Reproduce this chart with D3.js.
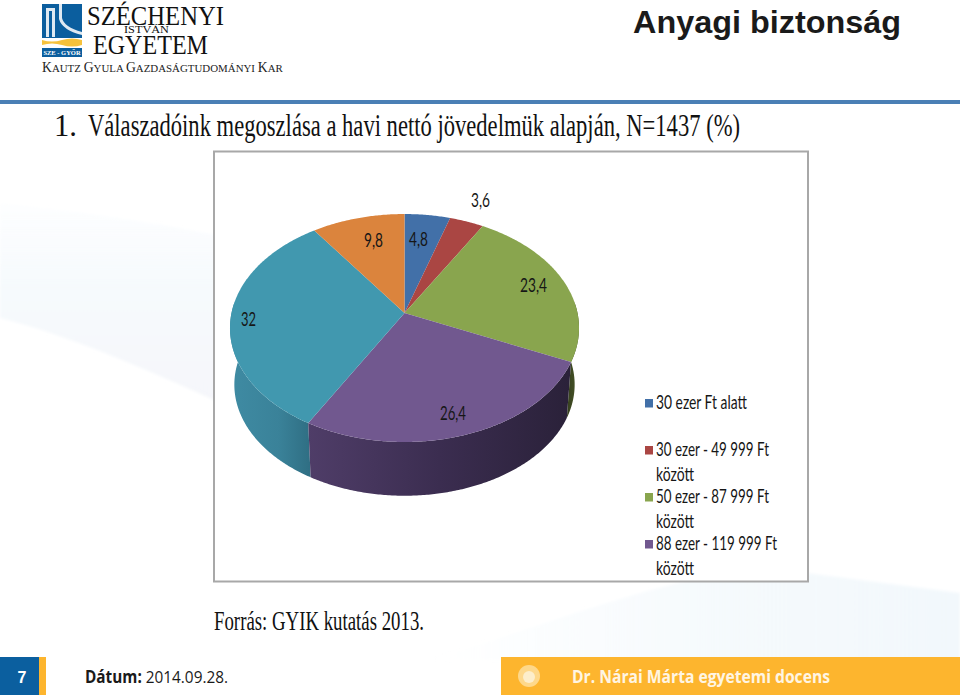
<!DOCTYPE html>
<html><head><meta charset="utf-8">
<script src="https://cdn.jsdelivr.net/npm/d3@7"></script>
<style>html,body{margin:0;padding:0;background:#fff;overflow:hidden}svg{display:block}</style>
</head><body>
<script>
const categories = ["30 ezer Ft alatt","30 ezer - 49 999 Ft között","50 ezer - 87 999 Ft között","88 ezer - 119 999 Ft között","120 ezer - 199 999 Ft között","200 ezer Ft felett"];
const values = [4.8,3.6,23.4,26.4,32,9.8];
const valueLabels = ["4,8","3,6","23,4","26,4","32","9,8"];
const colors = ["#4270a8","#aa4643","#89a54e","#71588f","#4198af","#db843d"];
const legendLines = [["30 ezer Ft alatt"],["30 ezer - 49 999 Ft","között"],["50 ezer - 87 999 Ft","között"],["88 ezer - 119 999 Ft","között"]];
const titleText = "Válaszadóink megoszlása a havi nettó jövedelmük alapján, N=1437 (%)";

const W=960,H=695;
const svg=d3.select("body").append("svg").attr("width",W).attr("height",H).attr("viewBox",[0,0,W,H]);
const defs=svg.append("defs");
function grad(id,stops,x1=0,y1=0,x2=1,y2=0){
  const g=defs.append("linearGradient").attr("id",id).attr("x1",x1).attr("y1",y1).attr("x2",x2).attr("y2",y2);
  stops.forEach(s=>g.append("stop").attr("offset",s[0]).attr("stop-color",s[1]).attr("stop-opacity",s[2]===undefined?1:s[2]));
}
grad("tealSide",[[0,"#3f8ba3"],[0.6,"#3a8299"],[1,"#2f6e83"]]);
grad("purpleSide",[[0,"#4f3d68"],[0.5,"#3b2d50"],[1,"#2a2139"]]);
grad("greenSide",[[0,"#36401e"],[1,"#4a5829"]]);
grad("band",[[0,"#f6fafd",0.2],[0.4,"#f6fafd",1],[1,"#f5f6fa",1]],0,0,0,1);
grad("lowWash",[[0,"#f2f8fc",0],[0.6,"#f2f8fc",0.8],[1,"#f2f8fc",1]],0,0,1,0);
const blur=defs.append("filter").attr("id","soft").attr("x","-10%").attr("y","-10%").attr("width","120%").attr("height","120%");
blur.append("feGaussianBlur").attr("stdDeviation",1.5);

svg.append("rect").attr("width",W).attr("height",H).attr("fill","#fff");
// pale background wash
svg.append("path").attr("d","M0,203 C90,212 170,225 240,240 L240,412 C160,375 70,335 0,318 Z").attr("fill","url(#band)").attr("filter","url(#soft)");
svg.append("path").attr("d","M430,660 C560,620 660,580 760,567 L960,593 L960,660 Z").attr("fill","url(#lowWash)").attr("filter","url(#soft)");

// header rule
svg.append("rect").attr("x",0).attr("y",100).attr("width",W).attr("height",4).attr("fill","#4a7fb5");

// logo
const logo=svg.append("g");
logo.append("rect").attr("x",42).attr("y",4).attr("width",40).attr("height",34).attr("fill","#0b5e9e");
logo.append("path").attr("d","M46,8 h9 v29 h-3 v-26 h-3 v26 h-3 Z M59,4 h3 v14 q2,9 20,14 v3 q-20,-5 -23,-16 Z").attr("fill","#dfe9f2");
logo.append("path").attr("d","M42,40 q10,3 20,0 t20,0 v5 q-10,3 -20,0 t-20,0 Z").attr("fill","#f6c23c");
logo.append("rect").attr("x",42).attr("y",48).attr("width",40).attr("height",9).attr("fill","#0b5e9e");
logo.append("text").attr("x",62).attr("y",55).attr("text-anchor","middle").attr("font-family","'Liberation Serif'").attr("font-size",6.5).attr("font-weight","bold").attr("fill","#fff").text("SZE - GYŐR");
const serif="'Liberation Serif',serif";
function fit(t,x,y,size,len,opts={}){
  return svg.append("text").attr("x",x).attr("y",y).attr("font-family",opts.family||serif).attr("font-size",size)
    .attr("fill",opts.fill||"#111").attr("font-weight",opts.weight||"normal").attr("textLength",len).attr("lengthAdjust","spacingAndGlyphs").text(t);
}
fit("SZÉCHENYI",87,24.5,28,137);
fit("ISTVÁN",124,33,9.5,45);
fit("EGYETEM",93,54,28,115);
const sc=svg.append("text").attr("x",42).attr("y",72).attr("font-family",serif).attr("fill","#222");
[["K",13.7],["AUTZ ",10.9],["G",13.7],["YULA ",10.9],["G",13.7],["AZDASÁGTUDOMÁNYI ",10.9],["K",13.7],["AR",10.9]].forEach(d=>sc.append("tspan").attr("font-size",d[1]).text(d[0]));

// heading
fit("Anyagi biztonság",633,33,31,268,{family:"'Liberation Sans',Arial,sans-serif",weight:"bold",fill:"#1a1a1a"});
fit("1.",54,136,31,23,{fill:"#111"});
fit(titleText,88,136,31,652,{fill:"#111"});

// chart frame
svg.append("rect").attr("x",214).attr("y",151.5).attr("width",594).attr("height",430).attr("fill","#fff").attr("stroke","#a8a8a8").attr("stroke-width",2);

// pie
const cx=404.5, cy=313, R=173, S=112, k=0.1316, depth=57, shrink=0.975;
function project(a,r=1,bottom=false){
  const u=Math.sin(a)*r, v=-Math.cos(a)*r, w=1-k*v, s=bottom?shrink:1;
  return [cx+s*R*u/w, cy+(bottom?depth:0)+s*S*v/w];
}
const arcs=d3.pie().sort(null).startAngle(0).endAngle(2*Math.PI)(values);
const line=d3.line();
const STEP=0.01;
function sweep(a0,a1){const n=Math.max(2,Math.ceil((a1-a0)/STEP));return d3.range(n+1).map(i=>a0+(a1-a0)*i/n);}
const sideFill={2:"url(#greenSide)",3:"url(#purpleSide)",4:"url(#tealSide)"};
const pie=svg.append("g");
[2,4,3].forEach(i=>{
  const d=arcs[i];
  const a0=Math.max(d.startAngle,Math.PI/2-0.1), a1=Math.min(d.endAngle,3*Math.PI/2+0.1);
  if(a1<=a0) return;
  const angs=sweep(a0,a1);
  const pts=angs.map(a=>project(a)).concat(angs.slice().reverse().map(a=>project(a,1,true)));
  pie.append("path").attr("d",line(pts)+"Z").attr("fill",sideFill[i]);
});
arcs.forEach((d,i)=>{
  const pts=[[cx,cy]].concat(sweep(d.startAngle,d.endAngle).map(a=>project(a)));
  pie.append("path").attr("d",line(pts)+"Z").attr("fill",colors[i]);
});

// labels
const calibri="Lato,'Open Sans',sans-serif";
function narrow(t,x,y,size,len){
  return svg.append("text").attr("x",x).attr("y",y).attr("font-family",calibri).attr("font-size",size).attr("fill","#161616")
   .attr("textLength",len).attr("lengthAdjust","spacingAndGlyphs").text(t);
}
const labelPos=[[409,246,19],[471,206.5,19],[520,292,27],[440,420,26],[241,326,15],[364,247,19]];
valueLabels.forEach((t,i)=>narrow(t,labelPos[i][0],labelPos[i][1],19,labelPos[i][2]));

// legend
const legendY=[409,456,503,550];
const lineW={"30 ezer Ft alatt":91,"30 ezer - 49 999 Ft":113,"50 ezer - 87 999 Ft":113,"88 ezer - 119 999 Ft":121,"között":38};
legendLines.forEach((ls,i)=>{
  svg.append("rect").attr("x",645).attr("y",legendY[i]-10).attr("width",8).attr("height",8.5).attr("fill",colors[i]);
  ls.forEach((t,j)=>narrow(t,656,legendY[i]+j*25,19,lineW[t]));
});

// source
fit("Forrás: GYIK kutatás 2013.",214,630,27,210,{fill:"#111"});

// footer
svg.append("rect").attr("x",0).attr("y",657).attr("width",39).attr("height",38).attr("fill","#0b5f9f");
svg.append("rect").attr("x",39).attr("y",657).attr("width",7).attr("height",38).attr("fill","#fdb52e");
svg.append("rect").attr("x",501).attr("y",657).attr("width",459).attr("height",38).attr("fill","#fdb52e");
svg.append("text").attr("x",22).attr("y",683).attr("text-anchor","middle").attr("font-family","'Liberation Sans'").attr("font-weight","bold").attr("font-size",16).attr("fill","#fff").text("7");
const foot=svg.append("text").attr("x",85).attr("y",683).attr("font-family","'Open Sans',sans-serif").attr("font-size",17).attr("fill","#1a1a1a").attr("textLength",143).attr("lengthAdjust","spacingAndGlyphs");
foot.append("tspan").attr("font-weight","bold").text("Dátum: ");
foot.append("tspan").text("2014.09.28.");
svg.append("circle").attr("cx",529).attr("cy",676).attr("r",11).attr("fill","#fed88a");
svg.append("circle").attr("cx",529).attr("cy",677).attr("r",6).attr("fill","#fdeecb");
svg.append("text").attr("x",572).attr("y",682.5).attr("font-family","'Open Sans',sans-serif").attr("font-weight","bold").attr("font-size",17).attr("fill","#fff5e3").attr("textLength",258).attr("lengthAdjust","spacingAndGlyphs").text("Dr. Nárai Márta egyetemi docens");
</script>
</body></html>
